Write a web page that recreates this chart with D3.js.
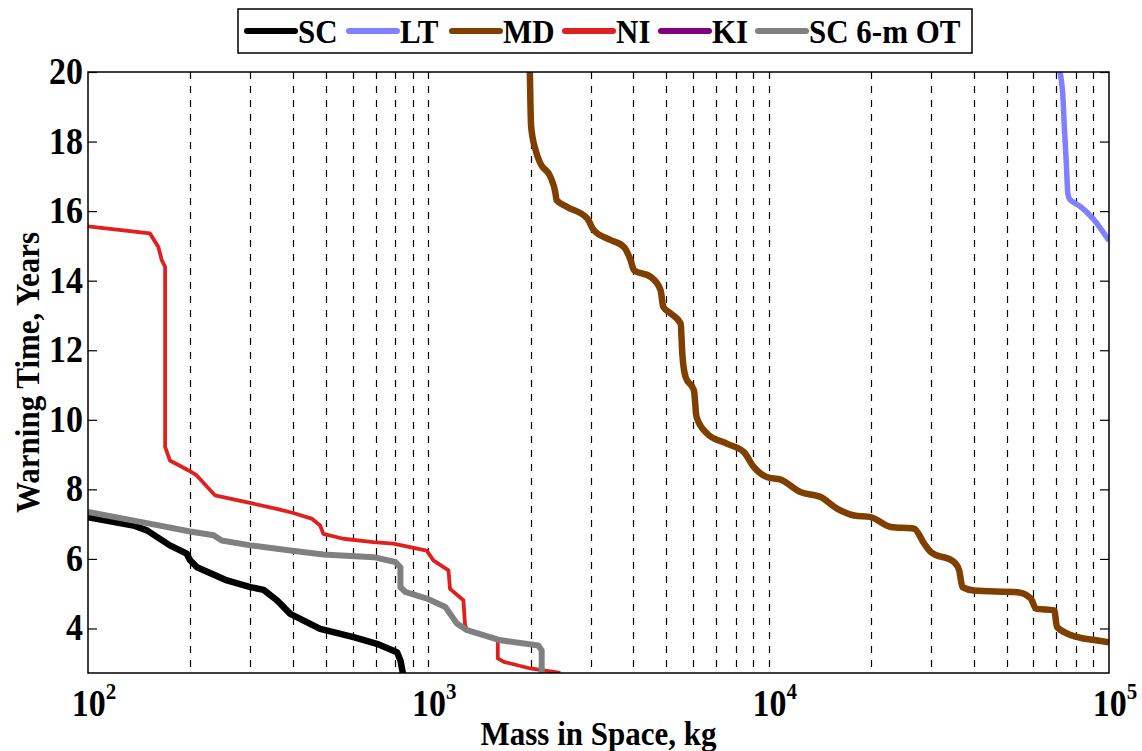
<!DOCTYPE html>
<html>
<head>
<meta charset="utf-8">
<script src="https://cdn.jsdelivr.net/npm/d3@7/dist/d3.min.js"></script>
<style>
  html, body { margin: 0; padding: 0; background: #fff; }
  svg { display: block; }
  text { font-family: "Liberation Serif", "Times New Roman", serif; font-weight: bold; }
</style>
</head>
<body>
<svg id="chart" width="1142" height="751"></svg>
<script>
// ---------- DATA ----------
const seriesNames = ["SC", "LT", "MD", "NI", "KI", "SC 6-m OT"];
const seriesColors = ["#000000", "#8080ff", "#7f3f00", "#e0201e", "#800080", "#808080"];
const seriesWidths = [6.5, 5.5, 6.5, 3.8, 5, 6];

// [mass kg, warning time years]
const scData = [[100,7.20],[136,6.96],[149,6.82],[174,6.39],[195,6.15],[199.5,5.96],[209,5.76],[256,5.38],[300,5.19],[328,5.11],[359,4.81],[393,4.42],[481,3.99],[603,3.75],[706,3.56],[809,3.32],[828,3.08],[846,2.60]];
const ltData = [[70960,20.2],[73100,19.39],[73900,18.43],[74840,17.47],[75700,16.51],[76500,16.35],[78200,16.27],[82700,16.12],[89600,15.79],[100000,15.15]];
const mdData = [[1986,20.2],[2005,18.43],[2066,17.76],[2135,17.37],[2283,16.99],[2364,16.51],[2380,16.32],[2558,16.12],[2929,15.79],[3064,15.45],[3430,15.17],[3755,14.97],[3929,14.59],[4020,14.30],[4500,14.11],[4812,13.73],[4900,13.25],[5152,13.06],[5512,12.77],[5575,11.90],[5700,11.23],[6030,10.85],[6140,10.08],[6600,9.60],[7560,9.31],[8460,9.07],[9050,8.64],[9910,8.35],[10850,8.28],[12410,7.92],[14220,7.78],[15930,7.44],[17830,7.25],[19950,7.20],[22840,6.92],[26760,6.87],[28640,6.44],[29950,6.20],[35060,5.91],[36290,5.67],[37100,5.19],[40170,5.09],[53860,5.04],[58950,4.86],[60980,4.57],[69030,4.52],[70360,4.04],[80880,3.75],[90500,3.67],[100000,3.60]];
const niData = [[100,15.56],[152,15.36],[161,14.97],[164.7,14.59],[168.5,14.40],[168.5,9.22],[174,8.83],[197,8.55],[208.7,8.40],[236,7.83],[299,7.61],[358.6,7.44],[401,7.32],[454,7.16],[481,6.96],[491.6,6.72],[563,6.58],[689,6.48],[789,6.44],[989,6.24],[1035,5.96],[1146,5.67],[1158,5.14],[1268,4.81],[1282,4.09],[1300,3.95],[1600,3.66],[1600,3.14],[1667,3.04],[1995,2.85],[2443,2.72]];
const kiData = [];
const sc6Data = [[100,7.35],[149,7.03],[199.5,6.79],[234,6.68],[247,6.53],[300,6.39],[393,6.24],[492,6.13],[690,6.05],[800,5.91],[828,5.76],[828,5.19],[855,5.05],[991,4.86],[1122,4.62],[1214,4.14],[1299,3.95],[1631,3.66],[2105,3.51],[2153,3.37],[2153,2.60]];

const xDomain = [100, 100000];
const yDomain = [2.72, 20];
const xTickExponents = [2, 3, 4, 5];
const yTickValues = [4, 6, 8, 10, 12, 14, 16, 18, 20];
const xTitle = "Mass in Space, kg";
const yTitle = "Warning Time, Years";

// ---------- LAYOUT ----------
const svg = d3.select("#chart");
const L = 88, T = 72, R = 1109, B = 673;
const SY = 1.12; // vertical stretch of the serif glyphs

const x = d3.scaleLog().domain(xDomain).range([L, R]);
const y = d3.scaleLinear().domain(yDomain).range([B, T]);

svg.append("defs").append("clipPath").attr("id", "clip")
  .append("rect").attr("x", L).attr("y", T).attr("width", R - L).attr("height", B - T);

function addText(parent, px, py, str, size, anchor, rot) {
  const g = parent.append("g").attr("transform", `translate(${px},${py})${rot ? " rotate(" + rot + ")" : ""} scale(1,${SY})`);
  return g.append("text").attr("x", 0).attr("y", 0).attr("text-anchor", anchor || "start")
    .attr("font-size", size).attr("fill", "#000").text(str);
}

// vertical dashed grid (minor + major)
const gridVals = [];
for (let e = 2; e < 5; e++) for (let m = 1; m <= 9; m++) gridVals.push(m * Math.pow(10, e));
svg.append("g").selectAll("line").data(gridVals.filter(v => v > 100 && v < 100000)).enter()
  .append("line")
  .attr("x1", d => Math.round(x(d)) + 0.5).attr("x2", d => Math.round(x(d)) + 0.5)
  .attr("y1", T).attr("y2", B)
  .attr("stroke", "#000").attr("stroke-width", 1.2).attr("stroke-dasharray", "7,7");

// y ticks (inward, left and right)
const yAxisL = d3.axisLeft(y).tickValues(yTickValues).tickSize(-9).tickFormat("");
const gy = svg.append("g").attr("transform", `translate(${L},0)`).call(yAxisL);
gy.select(".domain").remove();
gy.selectAll("line").attr("stroke", "#000").attr("stroke-width", 1.2);
const gyl = svg.append("g");
yTickValues.forEach(v => addText(gyl, L - 5, y(v) + 12, String(v), 34, "end"));

const yAxisR = d3.axisRight(y).tickValues(yTickValues).tickSize(-9).tickFormat("");
const gyr = svg.append("g").attr("transform", `translate(${R},0)`).call(yAxisR);
gyr.select(".domain").remove();
gyr.selectAll("line").attr("stroke", "#000").attr("stroke-width", 1.2);

// x tick labels 10^n
const xl = svg.append("g");
xTickExponents.forEach(e => {
  const t = addText(xl, x(Math.pow(10, e)) + 6, 716, "", 34, "middle");
  t.append("tspan").text("10");
  t.append("tspan").attr("dy", -15).attr("font-size", 21).text(String(e));
});

// series lines
const lineStep = d3.line().x(d => x(d[0])).y(d => y(d[1]));
const lineSmooth = d3.line().x(d => x(d[0])).y(d => y(d[1])).curve(d3.curveMonotoneX);
const allData = [scData, ltData, mdData, niData, kiData, sc6Data];
const smooth = [false, true, true, false, false, false];
const drawOrder = [2, 1, 3, 4, 0, 5];
const gLines = svg.append("g").attr("clip-path", "url(#clip)");
drawOrder.forEach(i => {
  if (!allData[i].length) return;
  gLines.append("path").datum(allData[i]).attr("d", smooth[i] ? lineSmooth : lineStep)
    .attr("fill", "none").attr("stroke", seriesColors[i]).attr("stroke-width", seriesWidths[i])
    .attr("stroke-linejoin", "round").attr("stroke-linecap", "butt");
});

// frame
svg.append("rect").attr("x", L).attr("y", T).attr("width", R - L).attr("height", B - T)
  .attr("fill", "none").attr("stroke", "#000").attr("stroke-width", 1.5);

// axis titles
addText(svg, (L + R) / 2, 745, xTitle, 31, "middle");
addText(svg, 39, (T + B) / 2, yTitle, 31, "middle", -90);

// legend
const leg = svg.append("g");
leg.append("rect").attr("x", 238).attr("y", 9).attr("width", 734).attr("height", 44)
  .attr("fill", "#fff").attr("stroke", "#000").attr("stroke-width", 1.5);
const legX = [247, 349, 452, 565, 661, 758];
seriesNames.forEach((n, i) => {
  leg.append("line").attr("x1", legX[i]).attr("x2", legX[i] + 48).attr("y1", 31).attr("y2", 31)
    .attr("stroke", seriesColors[i]).attr("stroke-width", 6).attr("stroke-linecap", "round");
  addText(leg, legX[i] + 51, 43, n, 31, "start");
});
</script>
</body>
</html>
